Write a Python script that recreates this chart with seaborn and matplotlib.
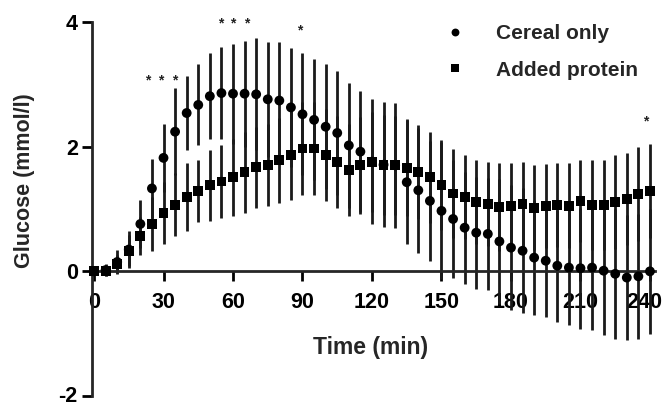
import numpy as np
import pandas as pd
import matplotlib
matplotlib.use("Agg")
import matplotlib.pyplot as plt
import matplotlib.transforms as mtransforms
import seaborn as sns

# ---- data ----
time_min = list(range(0, 245, 5))

cereal_mean = [0.00, 0.02, 0.15, 0.35, 0.76, 1.33, 1.82, 2.24, 2.54, 2.67,
               2.81, 2.86, 2.85, 2.85, 2.84, 2.76, 2.74, 2.63, 2.52, 2.43,
               2.32, 2.22, 2.02, 1.92, 1.76, 1.71, 1.70, 1.43, 1.30, 1.13,
               0.97, 0.84, 0.70, 0.62, 0.60, 0.48, 0.38, 0.33, 0.22, 0.17,
               0.09, 0.06, 0.05, 0.06, 0.01, -0.04, -0.10, -0.08, 0.00]
cereal_sd = [0.05, 0.10, 0.20, 0.30, 0.38, 0.48, 0.55, 0.70, 0.60, 0.65,
             0.69, 0.74, 0.80, 0.85, 0.90, 0.92, 0.94, 0.96, 0.98, 0.97,
             1.00, 0.99, 1.00, 0.97, 1.00, 1.00, 1.00, 0.99, 1.00, 0.96,
             1.10, 0.94, 0.90, 0.90, 0.90, 1.00, 1.00, 1.00, 0.92, 0.90,
             0.90, 0.92, 0.97, 1.00, 1.03, 1.04, 1.00, 1.00, 1.00]

protein_mean = [0.00, 0.00, 0.12, 0.33, 0.57, 0.76, 0.94, 1.07, 1.19, 1.29,
                1.38, 1.44, 1.51, 1.59, 1.67, 1.71, 1.78, 1.87, 1.97, 1.97,
                1.87, 1.76, 1.63, 1.70, 1.75, 1.71, 1.70, 1.66, 1.59, 1.51,
                1.38, 1.25, 1.19, 1.11, 1.08, 1.03, 1.05, 1.08, 1.02, 1.05,
                1.06, 1.05, 1.13, 1.06, 1.06, 1.11, 1.16, 1.24, 1.29]
protein_sd = [0.05, 0.08, 0.15, 0.25, 0.30, 0.43, 0.50, 0.50, 0.54, 0.50,
              0.57, 0.58, 0.62, 0.65, 0.65, 0.66, 0.68, 0.73, 0.75, 0.75,
              0.74, 0.74, 0.74, 0.78, 0.80, 0.80, 0.80, 0.78, 0.75, 0.73,
              0.72, 0.72, 0.67, 0.67, 0.68, 0.70, 0.68, 0.68, 0.68, 0.67,
              0.67, 0.68, 0.66, 0.72, 0.72, 0.75, 0.74, 0.76, 0.76]

series_names = ["Cereal only", "Added protein"]

sig_x = [23, 29, 35, 54.5, 60, 66, 89, 238]
sig_y = [3.06, 3.06, 3.06, 3.98, 3.98, 3.98, 3.86, 2.40]
sig_text = ["*", "*", "*", "*", "*", "*", "*", "*"]

x_ticks = [0, 30, 60, 90, 120, 150, 180, 210, 240]
y_ticks = [-2, 0, 2, 4]

# ---- build table ----
df = pd.concat([
    pd.DataFrame({"Time": time_min, "Glucose": cereal_mean, "SD": cereal_sd,
                  "Group": series_names[0]}),
    pd.DataFrame({"Time": time_min, "Glucose": protein_mean, "SD": protein_sd,
                  "Group": series_names[1]}),
], ignore_index=True)

sns.set_style("ticks")
plt.rcParams["font.family"] = ["Liberation Sans", "DejaVu Sans"]

W, H = 664, 408
fig = plt.figure(figsize=(W / 100, H / 100), dpi=100)
ax_left, ax_right = 91.7 / W, 654.6 / W
ax_bottom, ax_top = 1 - 396 / H, 1 - 22 / H
ax = fig.add_axes([ax_left, ax_bottom, ax_right - ax_left, ax_top - ax_bottom])

# error bars (no caps)
for name in series_names:
    sub = df[df["Group"] == name]
    ax.vlines(sub["Time"], sub["Glucose"] - sub["SD"], sub["Glucose"] + sub["SD"],
              colors="#1a1a1a", linewidth=2.0, zorder=2, clip_on=False)

sns.scatterplot(data=df, x="Time", y="Glucose", hue="Group", style="Group",
                markers={"Cereal only": "o", "Added protein": "s"},
                palette={"Cereal only": "black", "Added protein": "black"},
                s=50, edgecolor="black", linewidth=0, ax=ax, zorder=3,
                clip_on=False, legend=True)

for xx, yy, tt in zip(sig_x, sig_y, sig_text):
    ax.text(xx, yy, tt, ha="center", va="center", fontsize=10,
            fontweight="bold", color="#222222")

ax.set_xlim(-1, 242)
ax.set_ylim(-2, 4)
ax.spines["bottom"].set_position(("data", 0))
ax.spines["top"].set_visible(False)
ax.spines["right"].set_visible(False)
for sp in ("left", "bottom"):
    ax.spines[sp].set_linewidth(2.0)

ax.set_xticks(x_ticks)
ax.set_yticks(y_ticks)
ax.set_xticklabels([str(v) for v in x_ticks], fontsize=15.5, fontweight="bold")
ax.set_yticklabels([str(v) for v in y_ticks], fontsize=15.5, fontweight="bold")
ax.tick_params(axis="both", direction="out", length=7, width=2.0,
               colors="black")
ax.tick_params(axis="x", pad=8)
ax.tick_params(axis="y", pad=3)

# nudge the last x tick label so it stays inside the canvas
last = ax.get_xticklabels()[-1]
last.set_transform(last.get_transform() +
                   mtransforms.ScaledTranslation(-6 / 100, 0, fig.dpi_scale_trans))
# nudge the lowest y tick label up slightly so it is not clipped
low = ax.get_yticklabels()[0]
low.set_transform(low.get_transform() +
                  mtransforms.ScaledTranslation(0, 2 / 100, fig.dpi_scale_trans))

ax.set_xlabel("Time (min)", fontsize=16.5, fontweight="bold", labelpad=0)
ax.xaxis.set_label_coords(0.495, 0.16, transform=ax.transAxes)
ax.set_ylabel("Glucose (mmol/l)", fontsize=15.5, fontweight="bold")
ax.yaxis.set_label_coords(-0.10, 0.575)

leg = ax.legend(loc="upper left",
                bbox_to_anchor=(445 / W, 1 - 24 / H),
                bbox_transform=fig.transFigure,
                frameon=False, fontsize=15, handlelength=1.0,
                handletextpad=1.45, labelspacing=0.85,
                markerscale=0.8, borderpad=0, borderaxespad=0)
leg.set_title(None)
for t in leg.get_texts():
    t.set_fontweight("bold")

fig.savefig("out.png", dpi=100)
